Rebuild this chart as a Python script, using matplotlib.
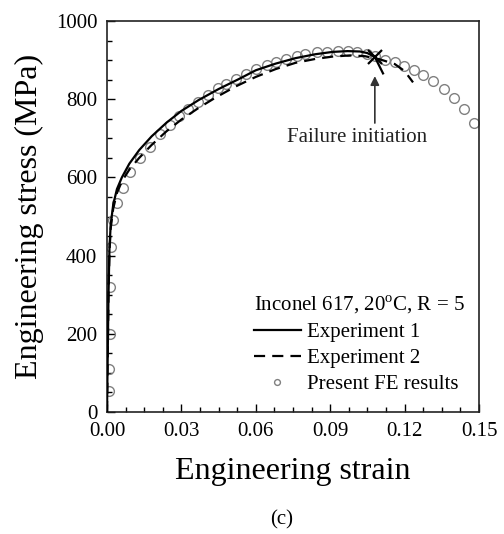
import matplotlib
matplotlib.use("Agg")
import matplotlib.pyplot as plt
from matplotlib.ticker import MultipleLocator, FormatStrFormatter

plt.rcParams["font.family"] = ["Liberation Serif", "DejaVu Serif"]
plt.rcParams["mathtext.fontset"] = "custom"
plt.rcParams["mathtext.rm"] = "Liberation Serif"

# Experiment 1 (solid line)
exp1_strain = [0, 0.0003, 0.0006, 0.001, 0.0015, 0.0025, 0.004, 0.006, 0.009, 0.013,
               0.018, 0.024, 0.030, 0.037, 0.045, 0.053, 0.060, 0.068, 0.076, 0.084,
               0.091, 0.097, 0.102, 0.105, 0.108, 0.1113]
exp1_stress = [0, 150, 300, 420, 480, 530, 570, 600, 635, 670,
               705, 740, 770, 798, 826, 851, 874, 891, 905, 915,
               921, 923, 922, 918, 908, 866]

# Experiment 2 (dashed line)
exp2_strain = [0, 0.0003, 0.0006, 0.001, 0.0015, 0.0025, 0.004, 0.006, 0.009, 0.013,
               0.018, 0.024, 0.030, 0.037, 0.044, 0.052, 0.060, 0.068, 0.076, 0.084,
               0.091, 0.098, 0.104, 0.110, 0.116, 0.120, 0.1234]
exp2_stress = [0, 150, 300, 410, 470, 520, 560, 590, 620, 650,
               683, 718, 748, 778, 805, 833, 857, 877, 893, 903,
               909, 912, 910, 902, 890, 872, 843]

# Present FE results (open circles)
fe_strain = [0.0008, 0.0008, 0.0012, 0.0012, 0.0016, 0.0024, 0.004, 0.0065, 0.0093, 0.0133,
             0.0173, 0.0214, 0.0254, 0.029, 0.0327, 0.0367, 0.0407, 0.0448, 0.048, 0.052,
             0.056, 0.060, 0.0645, 0.068, 0.072, 0.0766, 0.080, 0.0847, 0.0887, 0.093,
             0.097, 0.101, 0.105, 0.108, 0.112, 0.116, 0.1198, 0.1238, 0.1274, 0.1315,
             0.136, 0.140, 0.144, 0.148]
fe_stress = [54, 110, 200, 319, 422, 491, 535, 573, 614, 650,
             679, 710, 735, 756, 774, 794, 812, 828, 838, 851,
             864, 877, 887, 895, 902, 910, 915, 920, 920, 922,
             922, 920, 915, 910, 900, 894, 884, 874, 861, 846,
             827, 802, 774, 740]

failure_strain = 0.108
failure_stress = 908

legend_title = r"Inconel 617, 20$^{\rm o}$C, R = 5"
labels = ["Experiment 1", "Experiment 2", "Present FE results"]

fig = plt.figure(figsize=(5.04, 5.34), dpi=100)
ax = fig.add_axes([107 / 504, 1 - 412 / 534, 372 / 504, 391 / 534])

ax.plot(exp1_strain, exp1_stress, color="black", lw=1.6, label=labels[0], zorder=3)
ax.plot(exp2_strain, exp2_stress, color="black", lw=1.6, dashes=(5.0, 3.2),
        label=labels[1], zorder=3)
ax.plot(fe_strain, fe_stress, linestyle="none", marker="o", markersize=7,
        markerfacecolor="none", markeredgecolor="#808080", markeredgewidth=1.0,
        label=labels[2], zorder=2)
ax.plot([failure_strain], [failure_stress], marker="x", markersize=10,
        markeredgewidth=1.6, color="black", zorder=4)

# vertical arrow pointing at the failure point, label below it
ax.annotate("", xy=(failure_strain, 859), xytext=(failure_strain, 739),
            arrowprops=dict(arrowstyle="-|>", color="#333333", lw=1.2,
                            mutation_scale=13, shrinkA=0, shrinkB=0))
ax.text(0.1008, 703, "Failure initiation", ha="center", va="center",
        fontsize=15, color="#222222")

ax.set_xlim(0, 0.15)
ax.set_ylim(0, 1000)
ax.xaxis.set_major_locator(MultipleLocator(0.03))
ax.xaxis.set_minor_locator(MultipleLocator(0.0075))
ax.yaxis.set_major_locator(MultipleLocator(200))
ax.yaxis.set_minor_locator(MultipleLocator(50))
ax.xaxis.set_major_formatter(FormatStrFormatter("%.2f"))
ax.yaxis.set_major_formatter(FormatStrFormatter("%d"))

ax.tick_params(which="both", direction="in", top=False, right=False,
               labelsize=15, colors="black", width=1.0)
ax.tick_params(which="major", length=6, pad=7)
ax.tick_params(which="minor", length=3.5)
for s in ax.spines.values():
    s.set_linewidth(1.2)
    s.set_color("#222222")

ax.set_xlabel("Engineering strain", fontsize=23)
ax.set_ylabel("Engineering stress (MPa)", fontsize=23)
ax.xaxis.label.set_va("center")
ax.yaxis.label.set_va("center")
ax.xaxis.set_label_coords(0.5, (412 - 472) / 391)
ax.yaxis.set_label_coords((29 - 107) / 372, 0.5)

leg = ax.legend(title=legend_title, loc="lower left",
                bbox_to_anchor=(0.395, 0.045), frameon=False, fontsize=15,
                title_fontsize=15, handlelength=2.26, handletextpad=0.3,
                labelspacing=0.32, borderpad=0, borderaxespad=0,
                markerscale=0.6, alignment="left")

fig.text(282 / 504, 1 - 520 / 534, "(c)", ha="center", va="center", fontsize=15)

fig.savefig("out.png", dpi=100)
